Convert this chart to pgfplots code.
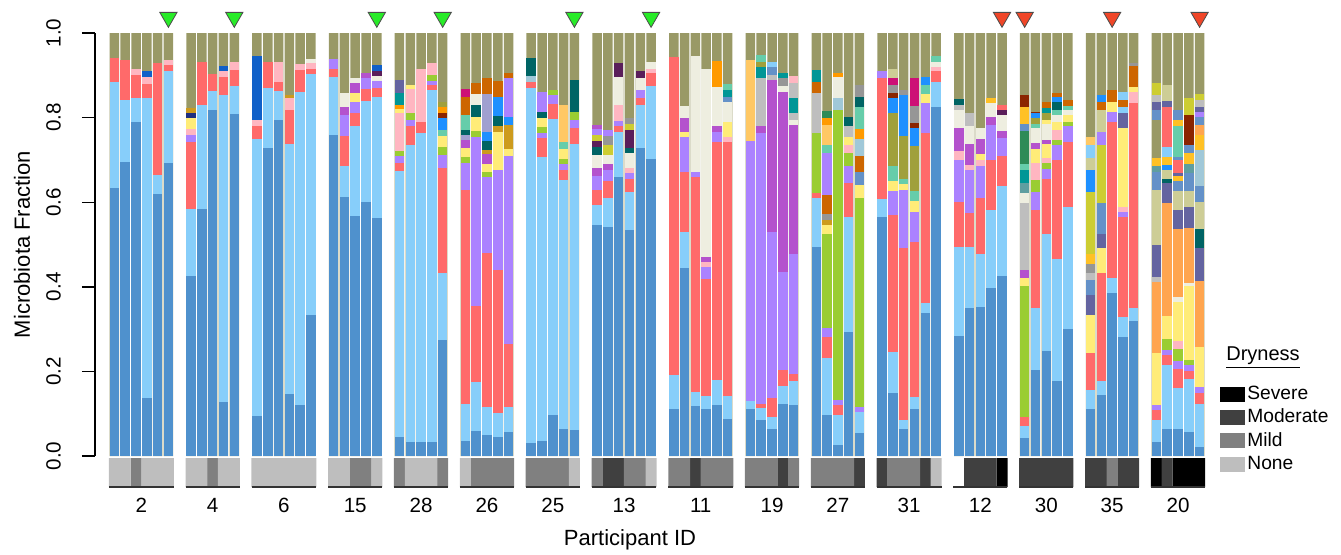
\documentclass[border=0pt]{standalone}
\usepackage{pgfplots}
\pgfplotsset{compat=1.18}
\usepackage{fontspec}
\setmainfont{Liberation Sans}
\definecolor{OL}{RGB}{153,153,102}
\definecolor{DB}{RGB}{79,145,205}
\definecolor{LB}{RGB}{135,206,250}
\definecolor{RD}{RGB}{255,106,106}
\definecolor{LV}{RGB}{171,130,255}
\definecolor{MG}{RGB}{180,82,205}
\definecolor{GN}{RGB}{154,205,50}
\definecolor{YL}{RGB}{255,236,120}
\definecolor{OR}{RGB}{255,165,79}
\definecolor{PK}{RGB}{255,182,193}
\definecolor{BG}{RGB}{238,238,224}
\definecolor{SL}{RGB}{100,100,160}
\definecolor{KH}{RGB}{205,205,150}
\definecolor{GB}{RGB}{100,145,200}
\definecolor{SI}{RGB}{190,190,190}
\definecolor{GY}{RGB}{150,150,150}
\definecolor{DT}{RGB}{0,100,100}
\definecolor{TE}{RGB}{0,150,150}
\definecolor{LT}{RGB}{102,205,170}
\definecolor{BL}{RGB}{30,144,255}
\definecolor{BLD}{RGB}{16,96,200}
\definecolor{OB}{RGB}{205,102,0}
\definecolor{BN}{RGB}{139,37,0}
\definecolor{GD}{RGB}{205,155,29}
\definecolor{GO}{RGB}{255,193,37}
\definecolor{LO}{RGB}{255,200,100}
\definecolor{OD}{RGB}{160,160,60}
\definecolor{YG}{RGB}{205,205,50}
\definecolor{MR}{RGB}{205,16,118}
\definecolor{DP}{RGB}{90,30,90}
\definecolor{NV}{RGB}{31,47,127}
\definecolor{SG}{RGB}{46,139,87}
\definecolor{LG}{RGB}{160,160,208}
\definecolor{LBG}{RGB}{160,200,216}
\definecolor{ORG}{RGB}{255,154,0}
\definecolor{CT}{RGB}{95,158,160}
\definecolor{TRG}{RGB}{40,235,40}
\definecolor{TRR}{RGB}{240,70,40}
\definecolor{DS}{RGB}{0,0,0}
\definecolor{DM}{RGB}{64,64,64}
\definecolor{DI}{RGB}{128,128,128}
\definecolor{DN}{RGB}{190,190,190}
\pgfplotsset{
  every axis/.append style={font=\fontsize{10.3}{12.4}\selectfont},
  seg/.style={ybar, bar width=0.88, bar shift=0pt, draw=none, fill=#1, forget plot},
  strip/.style={ybar, bar width=1.02, bar shift=0pt, draw=none, fill=#1, forget plot}
}
\newcommand{\bb}[2]{\foreach \vv/\cc in {#2}{\edef\tmp{\noexpand\addplot[seg=\cc] coordinates {(#1,\vv)};}\tmp}}
\begin{document}
\begin{tikzpicture}
\useasboundingbox (-47.5pt,-49pt) rectangle (623pt,228pt);
\begin{axis}[at={(0pt,0pt)}, anchor=south west, scale only axis,
  width=555pt, height=211.5pt, xmin=-1.3, xmax=101.5, ymin=0, ymax=1,
  clip=false, axis x line=none, axis y line*=left,
  y axis line style={-, line width=0.7pt},
  ytick={0,0.2,0.4,0.6,0.8,1}, tick align=outside, major tick length=6.5pt,
  ytick style={line width=0.7pt, black},
  yticklabel shift=7pt,
  yticklabel style={/pgf/number format/fixed, /pgf/number format/fixed zerofill,
    /pgf/number format/precision=1, /pgf/number format/assume math mode=true,
    rotate=90, anchor=south},
  ylabel={Microbiota Fraction},
  every axis y label/.style={at={(axis description cs:-0.0658,0.5)}, rotate=90, anchor=center, font=\fontsize{11}{13}\selectfont},
  legend style={at={(axis description cs:1.0135,0.171)}, anchor=north west, draw=none, fill=none,
    inner sep=0pt, row sep=1.2pt, font=\fontsize{9.6}{11.5}\selectfont,
    nodes={inner sep=1pt, text height=6.8pt, text depth=1.6pt}},
  legend cell align=left,
  legend image code/.code={\path[#1] (0pt,-3.75pt) rectangle (12.5pt,3.75pt);}
]
\addplot[seg=OL] coordinates {(0.5,1)(1.5,1)(2.5,1)(3.5,1)(4.5,1)(5.5,1)(7.6,1)(8.6,1)(9.6,1)(10.6,1)(11.6,1)(13.7,1)(14.7,1)(15.7,1)(16.7,1)(17.7,1)(18.7,1)(20.8,1)(21.8,1)(22.8,1)(23.8,1)(24.8,1)(26.9,1)(27.9,1)(28.9,1)(29.9,1)(30.9,1)(33,1)(34,1)(35,1)(36,1)(37,1)(39.1,1)(40.1,1)(41.1,1)(42.1,1)(43.1,1)(45.2,1)(46.2,1)(47.2,1)(48.2,1)(49.2,1)(50.2,1)(52.3,1)(53.3,1)(54.3,1)(55.3,1)(56.3,1)(57.3,1)(59.4,1)(60.4,1)(61.4,1)(62.4,1)(63.4,1)(65.5,1)(66.5,1)(67.5,1)(68.5,1)(69.5,1)(71.6,1)(72.6,1)(73.6,1)(74.6,1)(75.6,1)(76.6,1)(78.7,1)(79.7,1)(80.7,1)(81.7,1)(82.7,1)(84.8,1)(85.8,1)(86.8,1)(87.8,1)(88.8,1)(90.9,1)(91.9,1)(92.9,1)(93.9,1)(94.9,1)(97,1)(98,1)(99,1)(100,1)(101,1)};
\bb{0.5}{0.94/RD,0.885/LB,0.634/DB}
\bb{1.5}{0.936/RD,0.842/LB,0.696/DB}
\bb{2.5}{0.916/PK,0.9/RD,0.846/LB,0.79/DB}
\bb{3.5}{0.91/BLD,0.897/PK,0.88/RD,0.846/LB,0.136/DB}
\bb{4.5}{0.928/RD,0.664/LB,0.62/DB}
\bb{5.5}{0.936/PK,0.924/RD,0.909/LB,0.692/DB}
\bb{7.6}{0.822/GD,0.81/NV,0.798/YL,0.773/PK,0.759/LV,0.743/RD,0.585/LB,0.426/DB}
\bb{8.6}{0.932/RD,0.83/LB,0.585/DB}
\bb{9.6}{0.903/RD,0.863/LB,0.818/DB}
\bb{10.6}{0.922/BLD,0.909/PK,0.897/RD,0.853/LB,0.127/DB}
\bb{11.6}{0.931/PK,0.913/RD,0.875/LB,0.808/DB}
\bb{13.7}{0.946/BLD,0.794/PK,0.781/RD,0.749/LB,0.095/DB}
\bb{14.7}{0.932/RD,0.869/LB,0.727/DB}
\bb{15.7}{0.932/PK,0.885/RD,0.863/LB,0.794/DB}
\bb{16.7}{0.853/GD,0.846/PK,0.818/RD,0.737/LB,0.146/DB}
\bb{17.7}{0.926/PK,0.913/RD,0.861/LB,0.12/DB}
\bb{18.7}{0.939/BG,0.928/PK,0.914/RD,0.902/LB,0.333/DB}
\bb{20.8}{0.938/LV,0.914/RD,0.897/LB,0.759/DB}
\bb{21.8}{0.857/BG,0.824/MG,0.806/LV,0.757/RD,0.686/LB,0.613/DB}
\bb{22.8}{0.893/BG,0.881/MG,0.857/YL,0.838/LV,0.812/RD,0.779/LB,0.568/DB}
\bb{23.8}{0.905/MG,0.893/LV,0.867/RD,0.839/LB,0.601/DB}
\bb{24.8}{0.924/BLD,0.909/DP,0.898/BG,0.887/LV,0.869/RD,0.849/LB,0.562/DB}
\bb{26.9}{0.889/SL,0.857/TE,0.83/ORG,0.82/YL,0.81/PK,0.721/GN,0.709/LV,0.692/RD,0.674/LB,0.044/DB}
\bb{27.9}{0.877/YL,0.867/PK,0.812/GN,0.794/LV,0.779/RD,0.735/LB,0.034/DB}
\bb{28.9}{0.916/PK,0.79/RD,0.763/LB,0.032/DB}
\bb{29.9}{0.928/PK,0.9/GN,0.887/LV,0.877/RD,0.865/LB,0.032/DB}
\bb{30.9}{0.838/OD,0.824/ORG,0.81/BN,0.798/BL,0.771/LT,0.757/YL,0.73/GN,0.712/LV,0.682/RD,0.432/LB,0.274/DB}
\bb{33}{0.867/MR,0.849/OB,0.806/LT,0.771/DT,0.759/LG,0.747/MG,0.727/YL,0.708/GN,0.693/LV,0.63/RD,0.123/LB,0.036/DB}
\bb{34}{0.881/OB,0.856/BG,0.83/DT,0.802/YL,0.769/GN,0.755/LV,0.355/RD,0.174/LB,0.058/DB}
\bb{35}{0.893/OB,0.856/LG,0.767/BL,0.745/DT,0.723/GD,0.714/MG,0.69/YL,0.672/GN,0.66/LV,0.481/RD,0.115/LB,0.05/DB}
\bb{36}{0.887/OB,0.849/BL,0.804/DT,0.781/GD,0.767/YL,0.676/LV,0.44/RD,0.102/LB,0.046/DB}
\bb{37}{0.906/OB,0.893/LV,0.801/BL,0.782/GD,0.725/YL,0.709/LV,0.265/RD,0.117/LB,0.056/DB}
\bb{39.1}{0.942/DT,0.898/LBG,0.883/RD,0.869/LB,0.03/DB}
\bb{40.1}{0.861/LV,0.814/DT,0.798/YL,0.777/GN,0.764/LV,0.751/RD,0.708/LB,0.036/DB}
\bb{41.1}{0.865/GN,0.853/LV,0.832/RD,0.796/LB,0.097/DB}
\bb{42.1}{0.83/LO,0.743/LT,0.725/YL,0.701/GN,0.69/LV,0.676/RD,0.652/LB,0.064/DB}
\bb{43.1}{0.889/DT,0.814/GN,0.794/LV,0.775/RD,0.738/LB,0.061/DB}
\bb{45.2}{0.782/MG,0.772/LV,0.76/YG,0.745/DP,0.73/DT,0.712/BG,0.682/MG,0.663/LV,0.63/RD,0.593/LB,0.545/DB}
\bb{46.2}{0.771/LV,0.756/GY,0.735/YG,0.712/BG,0.69/MG,0.675/LV,0.651/RD,0.611/LB,0.541/DB}
\bb{47.2}{0.928/DP,0.897/BG,0.83/PK,0.792/LV,0.779/RD,0.767/LB,0.66/DB}
\bb{48.2}{0.798/GY,0.786/YG,0.771/DP,0.727/DT,0.716/BG,0.682/PK,0.67/LV,0.656/RD,0.623/LB,0.534/DB}
\bb{49.2}{0.91/DP,0.893/BG,0.865/LV,0.846/RD,0.83/LB,0.727/DB}
\bb{50.2}{0.932/BG,0.916/PK,0.905/RD,0.875/LB,0.701/DB}
\bb{52.3}{0.944/RD,0.191/LB,0.111/DB}
\bb{53.3}{0.827/BG,0.8/MG,0.767/YL,0.755/LV,0.672/RD,0.53/LB,0.444/DB}
\bb{54.3}{0.946/BG,0.672/LV,0.66/RD,0.151/LB,0.119/DB}
\bb{55.3}{0.916/BG,0.471/MG,0.459/PK,0.448/LV,0.418/RD,0.142/LB,0.11/DB}
\bb{56.3}{0.934/ORG,0.873/BG,0.779/MG,0.767/LV,0.743/RD,0.18/LB,0.121/DB}
\bb{57.3}{0.879/LT,0.865/TE,0.849/GB,0.838/BG,0.79/YL,0.753/PK,0.743/RD,0.143/LB,0.087/DB}
\bb{59.4}{0.936/LO,0.745/LV,0.13/LB,0.111/DB}
\bb{60.4}{0.948/LT,0.931/OD,0.919/TE,0.893/SI,0.779/MG,0.763/LV,0.123/RD,0.113/LB,0.084/DB}
\bb{61.4}{0.932/LB,0.92/GB,0.9/SI,0.889/MG,0.53/LV,0.136/RD,0.093/LB,0.064/DB}
\bb{62.4}{0.905/TE,0.893/GY,0.875/BG,0.861/MG,0.436/LV,0.203/RD,0.165/LB,0.123/DB}
\bb{63.4}{0.898/PK,0.881/SI,0.846/TE,0.81/SI,0.794/BG,0.782/MG,0.478/LV,0.194/RD,0.178/LB,0.121/DB}
\bb{65.5}{0.913/TE,0.885/OB,0.857/SI,0.763/GN,0.621/RD,0.609/LB,0.493/DB}
\bb{66.5}{0.816/SG,0.798/ORG,0.782/LO,0.735/LT,0.716/LV,0.617/OB,0.572/GY,0.558/GD,0.546/YL,0.524/GN,0.303/LV,0.281/RD,0.231/LB,0.097/DB}
\bb{67.5}{0.906/ORG,0.897/BG,0.846/LBG,0.818/GN,0.132/LV,0.121/RD,0.097/LB,0.026/DB}
\bb{68.5}{0.801/DT,0.779/SI,0.755/YL,0.735/PK,0.716/GN,0.686/LV,0.645/RD,0.566/LB,0.292/DB}
\bb{69.5}{0.877/GY,0.849/DT,0.824/LT,0.772/ORG,0.749/LBG,0.709/OB,0.672/GB,0.641/YL,0.609/GN,0.117/LV,0.105/LB,0.055/DB}
\bb{71.6}{0.909/LV,0.894/RD,0.607/LB,0.566/DB}
\bb{72.6}{0.914/KH,0.893/MR,0.877/GY,0.857/BN,0.846/BL,0.81/OD,0.686/LT,0.649/YL,0.626/LV,0.57/RD,0.247/LB,0.148/DB}
\bb{73.6}{0.865/GY,0.853/BL,0.757/OD,0.656/LT,0.643/YL,0.63/LV,0.491/RD,0.085/LB,0.063/DB}
\bb{74.6}{0.893/MR,0.827/GY,0.788/BN,0.775/BL,0.733/OD,0.626/LT,0.604/YL,0.578/LV,0.507/RD,0.14/LB,0.111/DB}
\bb{75.6}{0.897/BL,0.877/LT,0.855/YL,0.835/LV,0.763/RD,0.361/LB,0.337/DB}
\bb{76.6}{0.946/LT,0.932/BG,0.92/PK,0.911/RD,0.883/LB,0.824/DB}
\bb{78.7}{0.843/DT,0.83/SI,0.818/BG,0.775/MG,0.72/PK,0.7/LV,0.601/RD,0.493/LB,0.284/DB}
\bb{79.7}{0.81/SI,0.779/BG,0.737/MG,0.688/PK,0.676/LV,0.575/RD,0.495/LB,0.351/DB}
\bb{80.7}{0.775/BG,0.749/MG,0.714/YL,0.7/PK,0.686/LV,0.611/RD,0.478/LB,0.353/DB}
\bb{81.7}{0.846/GO,0.835/BG,0.802/MG,0.782/LV,0.7/RD,0.582/LB,0.396/DB}
\bb{82.7}{0.83/RD,0.818/DP,0.805/BG,0.768/MG,0.751/LV,0.709/RD,0.639/LB,0.426/DB}
\bb{84.8}{0.853/BN,0.826/GO,0.786/GB,0.768/SG,0.69/LT,0.676/TE,0.645/CT,0.621/BG,0.599/SI,0.44/MG,0.42/YL,0.402/GN,0.093/RD,0.071/LB,0.042/DB}
\bb{85.8}{0.814/BN,0.81/BL,0.798/OD,0.786/LT,0.775/BG,0.739/MG,0.726/YL,0.692/PK,0.652/GN,0.623/LV,0.582/RD,0.349/LB,0.203/DB}
\bb{86.8}{0.838/OB,0.822/TE,0.81/OD,0.794/YL,0.784/BG,0.747/MG,0.737/YL,0.705/PK,0.692/GN,0.678/LV,0.654/RD,0.524/LB,0.248/DB}
\bb{87.8}{0.859/OB,0.849/BL,0.838/DT,0.818/LT,0.806/BG,0.79/YL,0.771/PK,0.747/GN,0.735/LV,0.7/RD,0.466/LB,0.178/DB}
\bb{88.8}{0.842/OB,0.827/LT,0.818/BG,0.806/YL,0.79/GN,0.779/LV,0.743/RD,0.589/LB,0.3/DB}
\bb{90.9}{0.755/LO,0.735/LB,0.704/KH,0.676/BL,0.623/YG,0.478/GO,0.455/GY,0.433/SI,0.416/GB,0.381/SL,0.333/YL,0.244/RD,0.156/LB,0.111/DB}
\bb{91.9}{0.853/BL,0.838/OB,0.818/KH,0.767/LV,0.735/YG,0.597/GB,0.525/SL,0.491/YL,0.433/RD,0.178/LB,0.144/DB}
\bb{92.9}{0.865/OB,0.838/YL,0.814/LV,0.79/RD,0.42/LB,0.385/DB}
\bb{93.9}{0.861/LB,0.842/OB,0.824/LB,0.812/SL,0.775/YL,0.589/PK,0.578/LV,0.566/RD,0.328/LB,0.282/DB}
\bb{94.9}{0.93/GY,0.922/OB,0.873/YL,0.861/PK,0.835/RD,0.349/LB,0.318/DB}
\bb{97}{0.881/YG,0.853/SI,0.838/SL,0.818/GB,0.794/OL,0.704/GO,0.686/CT,0.672/GB,0.629/KH,0.499/SL,0.424/SI,0.412/OR,0.244/YL,0.121/LV,0.109/RD,0.084/LB,0.034/DB}
\bb{98}{0.877/KH,0.839/SL,0.824/RD,0.731/LB,0.708/GO,0.688/BL,0.675/KH,0.656/DT,0.645/SL,0.599/OR,0.331/YL,0.276/GN,0.251/LV,0.239/RD,0.215/LB,0.063/DB}
\bb{99}{0.818/GB,0.794/GO,0.779/LT,0.708/GB,0.7/RD,0.67/SL,0.661/GO,0.649/GB,0.626/KH,0.582/SL,0.536/OR,0.377/BG,0.365/YL,0.273/PK,0.252/GN,0.225/LV,0.205/RD,0.16/LB,0.063/DB}
\bb{100}{0.846/YG,0.806/BN,0.735/GB,0.716/GO,0.69/CT,0.668/GB,0.627/KH,0.589/SL,0.54/OR,0.41/BG,0.402/YL,0.227/GN,0.215/LV,0.202/RD,0.182/LB,0.056/DB}
\bb{101}{0.856/YG,0.842/SI,0.824/SL,0.814/LV,0.802/GB,0.782/OR,0.759/GO,0.723/LBG,0.639/GB,0.601/KH,0.536/DT,0.491/SL,0.414/OR,0.258/YL,0.162/LV,0.148/RD,0.123/LB,0.022/DB}
\addplot[only marks, mark=triangle*, mark size=5pt, mark options={rotate=180, fill=TRG, draw=black!70, line width=0.4pt}, forget plot] coordinates {(5.5,1.037)(11.6,1.037)(24.8,1.037)(30.9,1.037)(43.1,1.037)(50.2,1.037)};
\addplot[only marks, mark=triangle*, mark size=5pt, mark options={rotate=180, fill=TRR, draw=black!70, line width=0.4pt}, forget plot] coordinates {(82.7,1.037)(84.8,1.037)(92.9,1.037)(101,1.037)};
\addlegendimage{fill=DS, draw=none}\addlegendentry{Severe}
\addlegendimage{fill=DM, draw=none}\addlegendentry{Moderate}
\addlegendimage{fill=DI, draw=none}\addlegendentry{Mild}
\addlegendimage{fill=DN, draw=none}\addlegendentry{None}
\node[anchor=center, font=\fontsize{10}{12}\selectfont] at (rel axis cs:1.0523,0.2317) {\underline{Dryness}};
\end{axis}
\begin{axis}[at={(0pt,-1pt)}, anchor=north west, scale only axis,
  width=555pt, height=14.5pt, xmin=-1.3, xmax=101.5, ymin=0, ymax=1, clip=false,
  axis y line=none, axis x line*=bottom, x axis line style={draw=none},
  xtick={3,9.6,16.2,22.8,28.9,35,41.1,47.7,54.8,61.4,67.5,74.1,80.7,86.8,92.9,99},
  xticklabels={2,4,6,15,28,26,25,13,11,19,27,31,12,30,35,20},
  major tick length=0pt, xtick style={draw=none}, xticklabel style={yshift=-2pt},
  xlabel={Participant ID},
  every axis x label/.style={at={(axis description cs:0.482,-1.83)}, anchor=center, font=\fontsize{11}{13}\selectfont}
]
\addplot[strip=DS] coordinates {(82.7,1)(97,1)(99,1)(100,1)(101,1)};
\addplot[strip=DM] coordinates {(46.2,1)(47.2,1)(54.3,1)(62.4,1)(69.5,1)(71.6,1)(75.6,1)(79.7,1)(80.7,1)(81.7,1)(84.8,1)(85.8,1)(86.8,1)(87.8,1)(88.8,1)(90.9,1)(91.9,1)(93.9,1)(94.9,1)(98,1)};
\addplot[strip=DI] coordinates {(2.5,1)(9.6,1)(22.8,1)(23.8,1)(26.9,1)(30.9,1)(34,1)(35,1)(36,1)(37,1)(39.1,1)(40.1,1)(41.1,1)(42.1,1)(45.2,1)(48.2,1)(49.2,1)(52.3,1)(53.3,1)(55.3,1)(56.3,1)(57.3,1)(59.4,1)(60.4,1)(61.4,1)(63.4,1)(65.5,1)(66.5,1)(67.5,1)(68.5,1)(72.6,1)(73.6,1)(74.6,1)(92.9,1)};
\addplot[strip=DN] coordinates {(0.5,1)(1.5,1)(3.5,1)(4.5,1)(5.5,1)(7.6,1)(8.6,1)(10.6,1)(11.6,1)(13.7,1)(14.7,1)(15.7,1)(16.7,1)(17.7,1)(18.7,1)(20.8,1)(21.8,1)(24.8,1)(27.9,1)(28.9,1)(29.9,1)(33,1)(43.1,1)(50.2,1)(76.6,1)};
\addplot[black!80, line width=0.8pt, forget plot, unbounded coords=jump] coordinates {(0,0)(6,0)(3,inf)(7.1,0)(12.1,0)(3,inf)(13.2,0)(19.2,0)(3,inf)(20.3,0)(25.3,0)(3,inf)(26.4,0)(31.4,0)(3,inf)(32.5,0)(37.5,0)(3,inf)(38.6,0)(43.6,0)(3,inf)(44.7,0)(50.7,0)(3,inf)(51.8,0)(57.8,0)(3,inf)(58.9,0)(63.9,0)(3,inf)(65,0)(70,0)(3,inf)(71.1,0)(77.1,0)(3,inf)(78.2,0)(83.2,0)(3,inf)(84.3,0)(89.3,0)(3,inf)(90.4,0)(95.4,0)(3,inf)(96.5,0)(101.5,0)};
\end{axis}
\end{tikzpicture}
\end{document}
